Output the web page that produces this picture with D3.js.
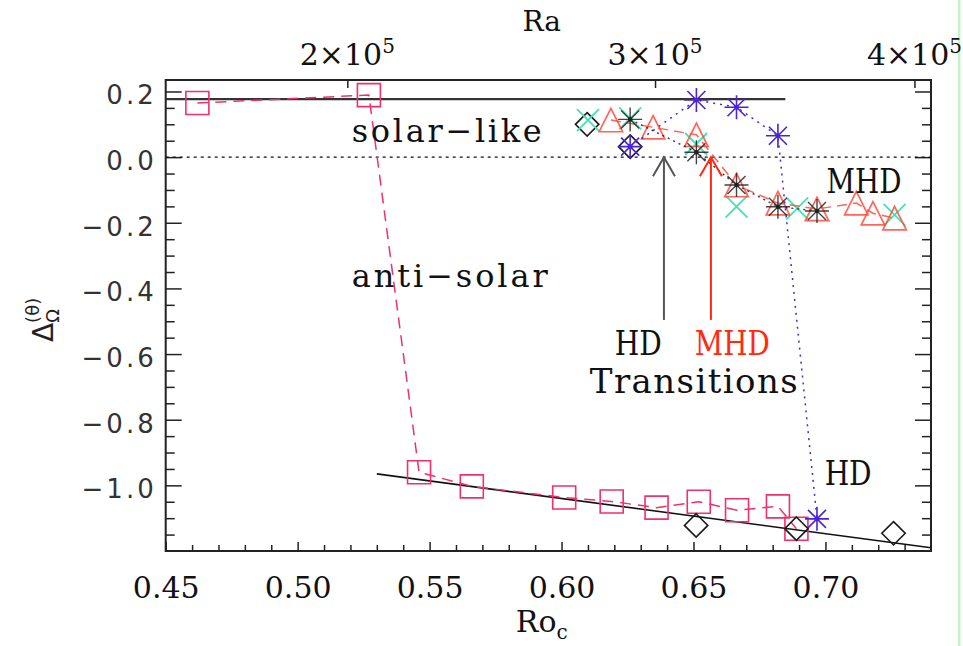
<!DOCTYPE html>
<html>
<head>
<meta charset="utf-8">
<script src="https://cdn.jsdelivr.net/npm/d3@7"></script>
<style>
html, body { margin: 0; padding: 0; background: #fff; }
svg { display: block; }
</style>
</head>
<body>
<svg id="svg"></svg>
<script>
const width = 963;
const height = 646;

// HD runs, squares (pink dashed)
const roSquare = [0.462, 0.527, 0.546, 0.566, 0.601, 0.619, 0.636, 0.652, 0.6665, 0.682, 0.689];
const dSquare  = [0.165, 0.189, -0.960, -1.003, -1.037, -1.049, -1.068, -1.050, -1.076, -1.064, -1.132];

// HD runs, diamonds
const roDiamond = [0.6097, 0.626, 0.651, 0.689, 0.7258];
const dDiamond  = [0.100, 0.032, -1.122, -1.132, -1.146];

// MHD runs, cyan crosses
const roCross = [0.610, 0.626, 0.651, 0.6663, 0.6893, 0.7262];
const dCross  = [0.113, 0.118, 0.040, -0.151, -0.156, -0.176];

// MHD runs, red triangles (dashed)
const roTri = [0.6187, 0.6347, 0.6511, 0.6663, 0.682, 0.6968, 0.7117, 0.718, 0.7262];
const dTri  = [0.113, 0.091, 0.068, -0.085, -0.140, -0.158, -0.140, -0.171, -0.186];

// MHD runs, black stars (dotted)
const roBlack = [0.626, 0.6511, 0.6663, 0.682, 0.6968];
const dBlack  = [0.115, 0.015, -0.085, -0.151, -0.164];

// HD runs, blue stars (dotted)
const roBlue = [0.626, 0.6511, 0.6663, 0.682, 0.6968];
const dBlue  = [0.032, 0.174, 0.152, 0.065, -1.102];

// fit lines
const roFitSolar = [0.45, 0.6848];
const dFitSolar  = [0.177, 0.177];
const roFitAnti = [0.53, 0.74];
const dFitAnti  = [-0.965, -1.19];

// axis ticks
const xMajor = [0.45, 0.50, 0.55, 0.60, 0.65, 0.70];
const xMinor = d3.range(46, 74).map(v => v / 100).filter(v => Math.round(v * 100) % 5 !== 0);
const yMajor = [-1.0, -0.8, -0.6, -0.4, -0.2, 0.0, 0.2];
const yMinor = d3.range(-23, 5).map(v => v / 20).filter(v => Math.round(v * 20) % 4 !== 0);
const raTicks = [2e5, 3e5, 4e5];
const raLabels = ["2", "3", "4"];
const raK = 7.43e5; // Ra = raK * Ro^2

const svg = d3.select("#svg").attr("width", width).attr("height", height);

const x = d3.scaleLinear().domain([0.45, 0.74]).range([165.7, 931]);
const y = d3.scaleLinear().domain([-1.2, 0.235]).range([551, 80]);
const xRa = d3.scaleSqrt().domain([raK * 0.45 * 0.45, raK * 0.74 * 0.74]).range(x.range());

const zip = (a, b) => a.map((v, i) => [v, b[i]]);
const line = d3.line().x(d => x(d[0])).y(d => y(d[1]));

// green page edge
svg.append("rect").attr("x", 958).attr("y", 0).attr("width", 2.5).attr("height", height).attr("fill", "#c4f4c4");

// axes
function addAxis(axis, tx, ty) {
    const g = svg.append("g").attr("transform", `translate(${tx},${ty})`).call(axis);
    g.select(".domain").remove();
    g.selectAll("line").attr("stroke", "#222").attr("stroke-width", 1.5);
    return g;
}

const yLeft = addAxis(d3.axisLeft(y).tickValues(yMajor).tickSize(-16).tickPadding(9)
    .tickFormat(d3.format(".1f")), x(0.45), 0);
yLeft.selectAll("text")
    .attr("dy", "0.48em")
    .style("font-family", "'DejaVu Sans'")
    .style("font-size", "26px")
    .style("letter-spacing", "3px")
    .attr("fill", "#333");
addAxis(d3.axisLeft(y).tickValues(yMinor).tickSize(-9).tickFormat(""), x(0.45), 0);
addAxis(d3.axisRight(y).tickValues(yMajor).tickSize(-16).tickFormat(""), x(0.74), 0);
addAxis(d3.axisRight(y).tickValues(yMinor).tickSize(-9).tickFormat(""), x(0.74), 0);

const xBottom = addAxis(d3.axisBottom(x).tickValues(xMajor).tickSize(-9)
    .tickFormat(d3.format(".2f")), 0, y(-1.2));
xBottom.selectAll("text")
    .attr("dy", null)
    .attr("y", 47)
    .style("font-family", "'DejaVu Serif'")
    .style("font-size", "30px")
    .attr("fill", "#111");
addAxis(d3.axisBottom(x).tickValues(xMinor).tickSize(-6).tickFormat(""), 0, y(-1.2));

addAxis(d3.axisTop(xRa).tickValues(raTicks).tickSize(-8).tickFormat(""), 0, y(0.235));
const raText = svg.append("g").selectAll("text").data(raTicks).join("text")
    .attr("x", d => xRa(d))
    .attr("y", 65)
    .attr("text-anchor", "middle")
    .style("font-family", "'DejaVu Serif'")
    .style("font-size", "30px")
    .attr("fill", "#111");
raText.append("tspan").text((d, i) => raLabels[i] + "\u00d710");
raText.append("tspan").attr("dy", -12).style("font-size", "20px").text("5");

// frame
svg.append("rect")
    .attr("x", x(0.45)).attr("y", y(0.235))
    .attr("width", x(0.74) - x(0.45)).attr("height", y(-1.2) - y(0.235))
    .attr("fill", "none").attr("stroke", "#222").attr("stroke-width", 2);

// axis titles
svg.append("text").attr("x", x(0.5925)).attr("y", 31).attr("text-anchor", "middle")
    .style("font-family", "'DejaVu Serif'").style("font-size", "28px").attr("fill", "#111").text("Ra");

const roTitle = svg.append("text").attr("x", x(0.5925)).attr("y", 632).attr("text-anchor", "middle")
    .style("font-family", "'DejaVu Serif'").style("font-size", "30px").attr("fill", "#111");
roTitle.append("tspan").text("Ro");
roTitle.append("tspan").attr("dy", 7).style("font-size", "20px").text("c");

const yTitle = svg.append("text").attr("transform", "rotate(-90)")
    .attr("x", -342).attr("y", 53)
    .style("font-family", "'DejaVu Sans'").style("font-size", "28px").attr("fill", "#222");
yTitle.append("tspan").text("\u0394");
yTitle.append("tspan").attr("dy", 6).style("font-size", "18px").text("\u03a9");
yTitle.append("tspan").attr("dx", -13.8).attr("dy", -20).style("font-size", "18px").text("(\u03b8)");

// reference lines
svg.append("path").attr("d", line(zip(roFitSolar, dFitSolar)))
    .attr("fill", "none").attr("stroke", "#333").attr("stroke-width", 2.2);
svg.append("path").attr("d", line(zip(roFitAnti, dFitAnti)))
    .attr("fill", "none").attr("stroke", "#111").attr("stroke-width", 1.6);
svg.append("path").attr("d", line([[0.45, 0], [0.74, 0]]))
    .attr("fill", "none").attr("stroke", "#111").attr("stroke-width", 1.4).attr("stroke-dasharray", "3,4");

// markers
const sym = {
    square: s => `M${-s},${-s}H${s}V${s}H${-s}Z`,
    diamond: s => `M0,${-s}L${s},0L0,${s}L${-s},0Z`,
    triangle: s => `M0,${-s}L${s},${s}L${-s},${s}Z`,
    cross: s => `M${-s},${-s}L${s},${s}M${-s},${s}L${s},${-s}`,
    star: s => {
        const c = s * 0.75;
        return `M${-s},0H${s}M0,${-s}V${s}M${-c},${-c}L${c},${c}M${-c},${c}L${c},${-c}`;
    }
};

function drawSeries(ro, d, shape, size, color, sw, dash, opacity) {
    const pts = zip(ro, d);
    if (dash) {
        svg.append("path").attr("d", line(pts))
            .attr("fill", "none").attr("stroke", color).attr("stroke-width", 1.5)
            .attr("stroke-dasharray", dash).attr("opacity", opacity);
    }
    const g = svg.append("g");
    g.selectAll("path").data(pts).join("path")
        .attr("transform", p => `translate(${x(p[0])},${y(p[1])})`)
        .attr("d", sym[shape](size))
        .attr("fill", "none").attr("stroke", color).attr("stroke-width", sw).attr("opacity", opacity);
    if (shape === "star") {
        g.selectAll("circle").data(pts).join("circle")
            .attr("cx", p => x(p[0])).attr("cy", p => y(p[1])).attr("r", 2.3).attr("fill", color);
    }
}

drawSeries(roSquare, dSquare, "square", 11.5, "#f0306c", 1.6, "11,7", 1);
drawSeries(roDiamond, dDiamond, "diamond", 11.7, "#1a1a1a", 1.6, null, 1);
drawSeries(roCross, dCross, "cross", 11, "#3de6b6", 1.8, null, 1);
drawSeries(roTri, dTri, "triangle", 11.7, "#ff4b3c", 1.7, "10,6", 0.85);
drawSeries(roBlack, dBlack, "star", 12, "#222", 1.4, "2,4", 0.85);
drawSeries(roBlue, dBlue, "star", 12, "#4a24d6", 1.6, "2,5", 1);

// transition arrows
function arrow(ro, from, to, color) {
    const g = svg.append("g").attr("fill", "none").attr("stroke", color).attr("stroke-width", 2);
    g.append("line").attr("x1", x(ro)).attr("x2", x(ro)).attr("y1", y(from)).attr("y2", y(to));
    g.append("path").attr("d", `M${x(ro) - 11},${y(to) + 19}L${x(ro)},${y(to)}L${x(ro) + 11},${y(to) + 19}`);
}
arrow(0.6388, -0.496, 0, "#555");
arrow(0.6566, -0.496, 0, "#ff2a10");

// annotations
function note(ro, d, txt, size, len, adjust, color) {
    svg.append("text").attr("x", x(ro)).attr("y", y(d))
        .attr("textLength", len).attr("lengthAdjust", adjust)
        .style("font-family", "'DejaVu Serif'").style("font-size", size + "px")
        .attr("fill", color).text(txt);
}
note(0.5205, 0.047, "solar\u2212like", 32, 190, "spacing", "#111");
note(0.5205, -0.3946, "anti\u2212solar", 32, 196, "spacing", "#111");
note(0.7004, -0.110, "MHD", 34, 75, "spacingAndGlyphs", "#111");
note(0.6997, -0.999, "HD", 34, 47, "spacingAndGlyphs", "#111");
note(0.6202, -0.6027, "HD", 34, 47, "spacingAndGlyphs", "#111");
note(0.6505, -0.6027, "MHD", 34, 75, "spacingAndGlyphs", "#ff2a10");
note(0.6107, -0.7185, "Transitions", 34, 208, "spacing", "#111");
</script>
</body>
</html>
